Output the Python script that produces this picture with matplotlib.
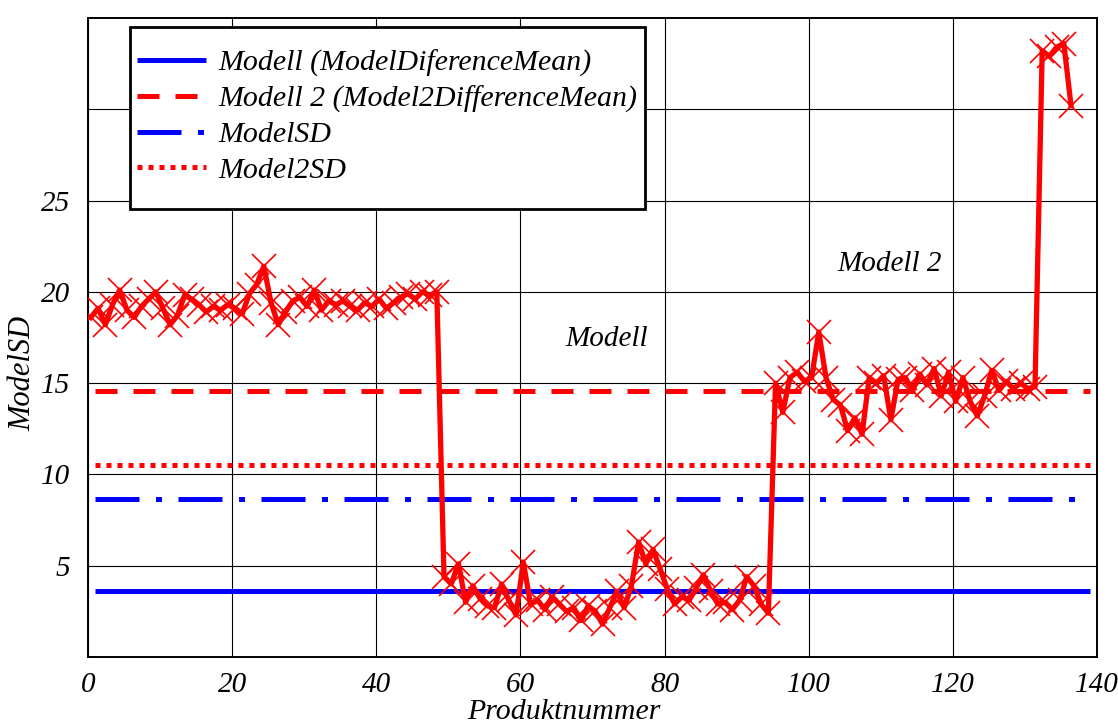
import numpy as np
import matplotlib
matplotlib.use("Agg")
import matplotlib.pyplot as plt
from matplotlib.patches import Rectangle

# ModelSD per product, grouped by plateau
sd_block1 = [18.6, 19.1, 18.2, 19.3, 20.1, 19.0, 18.6, 19.2, 19.6, 20.0,
             19.1, 18.2, 18.7, 19.8, 19.6, 19.3, 18.9, 19.2, 19.0, 19.3,
             19.1, 18.8, 19.9, 20.4, 21.4, 19.4, 18.2, 18.9, 19.5, 19.7,
             19.2, 20.1, 19.0, 19.5, 19.3, 19.5, 19.2, 19.0, 19.4, 19.2,
             19.6, 19.1, 19.4, 19.7, 19.9, 19.6, 20.0, 19.8, 20.0]
sd_block2 = [4.4, 4.0, 5.1, 3.0, 3.9, 3.2, 2.8, 2.7, 4.0, 3.1,
             2.3, 5.2, 2.9, 3.1, 2.6, 3.3, 2.9, 2.5, 2.7, 2.0,
             2.8, 2.5, 1.8, 2.7, 3.6, 2.7, 3.9, 6.3, 5.1, 5.9,
             4.8, 3.7, 2.9, 3.3, 3.1, 3.8, 4.5, 3.6, 2.9, 3.0,
             2.6, 3.1, 4.4, 3.9, 2.9, 2.4]
sd_block3 = [15.0, 13.4, 15.3, 15.6, 15.1, 15.3, 17.8, 15.3, 14.1, 13.8,
             12.4, 13.1, 12.2, 15.3, 15.0, 15.4, 13.0, 15.2, 15.3, 14.6,
             15.5, 14.9, 15.8, 14.3, 15.6, 14.0, 15.3, 14.0, 13.2, 14.3,
             15.7, 14.6, 15.1, 14.7, 15.0, 14.7, 14.8]
sd_block4 = [33.2, 32.9, 33.4, 33.6, 30.2]

model_diff_mean = 3.6
model2_diff_mean = 14.57
model_sd = 8.64
model2_sd = 10.49

x_ticks = [0, 20, 40, 60, 80, 100, 120, 140]
y_ticks = [5, 10, 15, 20, 25, 30]
y_tick_labels = ["5", "10", "15", "20", "25", ""]

sd_values = np.array(sd_block1 + sd_block2 + sd_block3 + sd_block4)
products = np.arange(len(sd_values)) + 0.4

FONT = "Liberation Serif"
plt.rcParams["font.family"] = FONT
plt.rcParams["font.style"] = "italic"

fig = plt.figure(figsize=(11.18, 7.25), dpi=100)
ax = fig.add_axes([0.0787, 0.0938, 0.9025, 0.8814])

ax.set_xlim(0, 140)
ax.set_ylim(0, 35)
ax.set_xticks(x_ticks)
ax.set_yticks(y_ticks)
ax.set_yticklabels(y_tick_labels)
ax.tick_params(length=0, labelsize=21, pad=13)
ax.tick_params(axis="x", pad=11)
ax.grid(True, color="black", linewidth=0.8)
ax.set_axisbelow(True)
for sp in ax.spines.values():
    sp.set_linewidth(1.4)
    sp.set_color("black")

lx = [1, 139]
lw = 3.6
ax.plot(lx, [model_diff_mean] * 2, color="#0000ff", lw=lw, solid_capstyle="butt",
        label="Modell (ModelDiferenceMean)")
ax.plot(lx, [model2_diff_mean] * 2, color="#ff0000", lw=lw, dashes=(4.4, 3.2),
        label="Modell 2 (Model2DifferenceMean)")
ax.plot(lx, [model_sd] * 2, color="#0000ff", lw=lw, dashes=(8.8, 3.3, 1.2, 3.3),
        label="ModelSD")
ax.plot(lx, [model2_sd] * 2, color="#ff0000", lw=lw, dashes=(1.0, 1.2),
        label="Model2SD")

ax.plot(products, sd_values, color="#ff0000", lw=3.8, marker="x",
        markersize=17, markeredgewidth=1.2, zorder=5)

ax.text(66.2, 17.4, "Modell", fontsize=21, ha="left", va="center")
ax.text(104.0, 21.5, "Modell 2", fontsize=21, ha="left", va="center")

ax.set_xlabel("Produktnummer", fontsize=21.5)
ax.xaxis.set_label_coords(0.472, -0.066)
ax.set_ylabel("ModelSD", fontsize=22)
ax.yaxis.set_label_coords(-0.05, 0.443)

# legend box drawn as its own rectangle, entries placed inside it
frame = Rectangle((0.0416, 0.701), 0.5104, 0.285, transform=ax.transAxes,
                  facecolor="white", edgecolor="black", linewidth=2, zorder=9)
ax.add_patch(frame)
leg = ax.legend(loc="upper left", bbox_to_anchor=(0.0486, 0.951), fontsize=21.5,
                frameon=False, handlelength=2.3, handletextpad=0.42,
                labelspacing=0.29, borderpad=0, borderaxespad=0)
leg.set_zorder(10)

fig.savefig("out.png", dpi=100)
